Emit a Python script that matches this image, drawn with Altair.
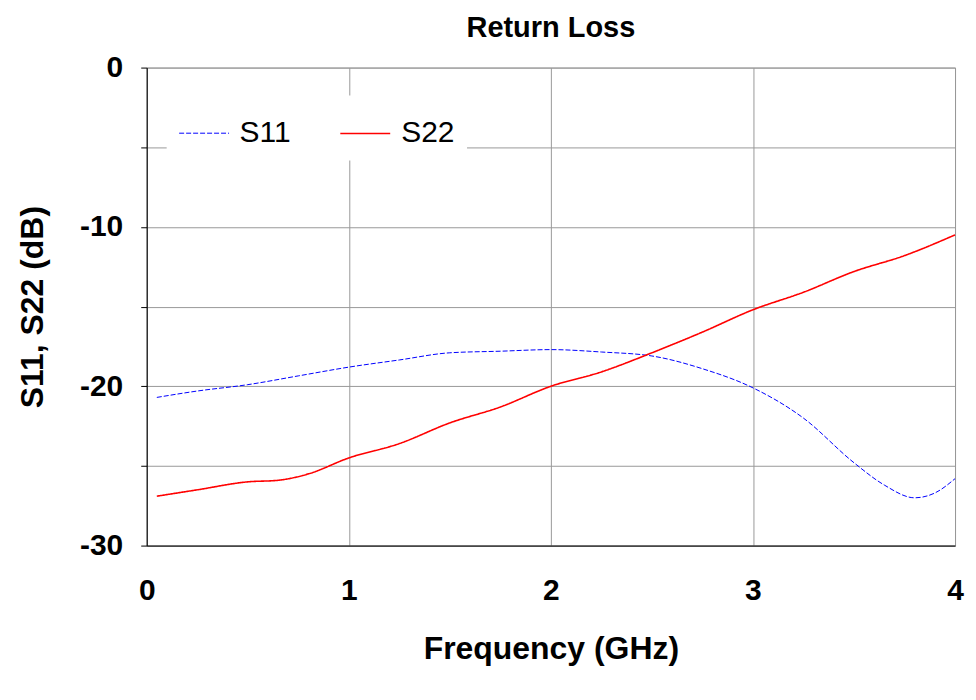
import altair as alt
import pandas as pd

s11_freq = [0.05, 0.25, 0.5, 0.75, 1.0, 1.25, 1.5, 1.75, 2.0, 2.25, 2.5, 2.75, 3.0, 3.25, 3.5, 3.65, 3.8, 3.9, 4.0]
s11_db = [-20.7, -20.3, -19.9, -19.35, -18.8, -18.35, -17.9, -17.8, -17.7, -17.85, -18.1, -18.9, -20.1, -22.0, -24.8, -26.2, -27.0, -26.7, -25.8]

s22_freq = [0.05, 0.25, 0.5, 0.65, 0.8, 1.0, 1.25, 1.5, 1.75, 2.0, 2.25, 2.5, 2.75, 3.0, 3.25, 3.5, 3.75, 4.0]
s22_db = [-26.9, -26.5, -26.0, -25.9, -25.5, -24.5, -23.6, -22.3, -21.3, -20.0, -19.1, -17.9, -16.6, -15.2, -14.1, -12.8, -11.8, -10.5]

df = pd.concat([
    pd.DataFrame({'freq': s11_freq, 'db': s11_db, 'param': 'S11'}),
    pd.DataFrame({'freq': s22_freq, 'db': s22_db, 'param': 'S22'}),
])

font = 'Liberation Sans'

chart = alt.Chart(df).mark_line(interpolate='monotone').encode(
    x=alt.X('freq:Q', title='Frequency (GHz)',
            scale=alt.Scale(domain=[0, 4], nice=False),
            axis=alt.Axis(values=[0, 1, 2, 3, 4], labelPadding=30, titlePadding=28,
                          labelFlush=False, tickSize=0, domainColor='black', gridColor='#999')),
    y=alt.Y('db:Q', title='S11, S22 (dB)',
            scale=alt.Scale(domain=[-30, 0], nice=False),
            axis=alt.Axis(values=[0, -5, -10, -15, -20, -25, -30],
                          labelExpr="datum.value % 10 == 0 ? toString(datum.value) : ''",
                          labelPadding=18, titlePadding=30, tickSize=6, tickColor='black',
                          labelFlush=False, domainColor='black', gridColor='#999')),
    color=alt.Color('param:N', scale=alt.Scale(domain=['S11', 'S22'], range=['#0000ff', '#ff0000']),
                    legend=alt.Legend(title=None, orient='none', legendX=20, legendY=28,
                                      direction='horizontal', symbolType='stroke',
                                      symbolSize=2500, symbolStrokeWidth=1.5,
                                      labelFontSize=30, labelFont=font, columnPadding=45,
                                      labelOffset=10, fillColor='white', padding=12)),
    strokeDash=alt.StrokeDash('param:N', scale=alt.Scale(domain=['S11', 'S22'], range=[[5, 2], [1, 0]]),
                              legend=None),
    strokeWidth=alt.StrokeWidth('param:N', scale=alt.Scale(domain=['S11', 'S22'], range=[1, 1.6]),
                                legend=None),
).properties(
    width=810, height=479,
    title=alt.Title('Return Loss', fontSize=29, font=font, fontWeight='bold', offset=10),
    autosize=alt.AutoSizeParams(type='none'),
    padding={'left': 139, 'top': 59, 'right': 13, 'bottom': 146},
).configure_axis(
    labelFont=font, labelFontSize=30, labelFontWeight='bold', labelColor='black',
    titleFont=font, titleFontSize=32, titleFontWeight='bold', titleColor='black',
).configure_view(stroke='#999')

chart.save("out.html", embed_options={"renderer": "svg", "actions": False})
